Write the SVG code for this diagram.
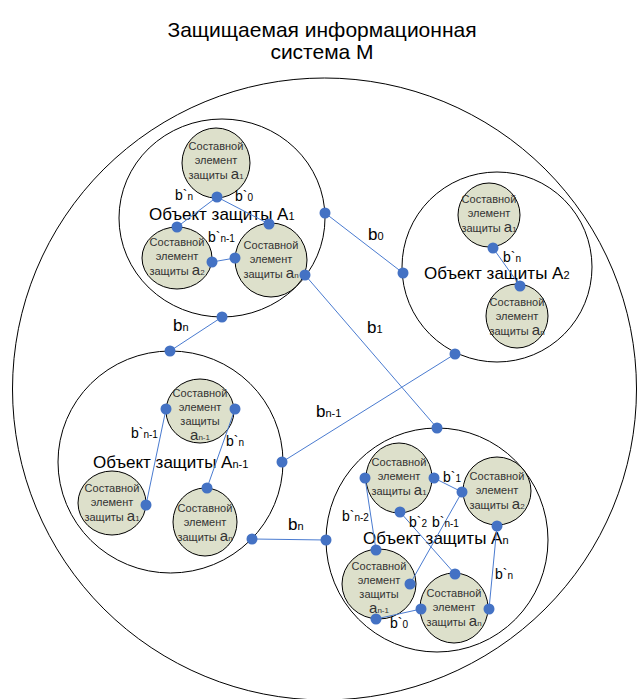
<svg xmlns="http://www.w3.org/2000/svg" width="637" height="699" viewBox="0 0 637 699">
  <style>
    text { font-family: "Liberation Sans", Arial, sans-serif; }
    .title { font-size: 21px; fill: #000; text-anchor: middle; }
    .obj { fill: #fff; fill-opacity: 0; stroke: #000; stroke-width: 1; }
    .el { fill: #dde0cb; stroke: #000; stroke-width: 1; }
    .elt { font-size: 11px; fill: #333; text-anchor: middle; }
    .big { font-size: 15px; }
    .sub { font-size: 8px; }
    .objt { font-size: 17px; fill: #000; }
    .objsub { font-size: 11px; }
    .lnk { stroke: #4a7bd0; stroke-width: 1; fill: none; }
    .dot { fill: #4472c4; }
    .lb { font-size: 14px; fill: #000; }
    .lbs { font-size: 10px; }
    .cb { font-size: 17px; fill: #000; }
    .cbs { font-size: 11px; }
  </style>

  <!-- title -->
  <text class="title" x="322" y="37">Защищаемая информационная</text>
  <text class="title" x="322" y="59">система M</text>

  <!-- system M boundary -->
  <g id="system-M">
    <ellipse class="obj" cx="324.5" cy="389" rx="312" ry="311"/>
  </g>

  <!-- object A1 -->
  <g id="object-A1">
    <ellipse class="obj" cx="222" cy="218" rx="103" ry="99"/>
    <text class="objt" x="149" y="220">Объект защиты A<tspan class="objsub">1</tspan></text>
    <g id="A1-a1">
      <ellipse class="el" cx="216" cy="163" rx="34" ry="35"/>
      <text class="elt" x="216" y="150">Составной<tspan x="216" dy="14">элемент</tspan><tspan x="216" dy="15">защиты <tspan class="big">a</tspan><tspan class="sub">1</tspan></tspan></text>
    </g>
    <g id="A1-a2">
      <ellipse class="el" cx="177" cy="258" rx="35" ry="31"/>
      <text class="elt" x="177" y="246">Составной<tspan x="177" dy="14">элемент</tspan><tspan x="177" dy="15">защиты <tspan class="big">a</tspan><tspan class="sub">2</tspan></tspan></text>
    </g>
    <g id="A1-an">
      <ellipse class="el" cx="271" cy="260" rx="36" ry="37"/>
      <text class="elt" x="271" y="249">Составной<tspan x="271" dy="14">элемент</tspan><tspan x="271" dy="15">защиты <tspan class="big">a</tspan><tspan class="sub">n</tspan></tspan></text>
    </g>
  </g>

  <!-- object A2 -->
  <g id="object-A2">
    <ellipse class="obj" cx="497" cy="267" rx="95" ry="95"/>
    <text class="objt" x="424" y="279">Объект защиты A<tspan class="objsub">2</tspan></text>
    <g id="A2-a1">
      <ellipse class="el" cx="489" cy="215" rx="31" ry="32"/>
      <text class="elt" x="489" y="203">Составной<tspan x="489" dy="14">элемент</tspan><tspan x="489" dy="15">защиты <tspan class="big">a</tspan><tspan class="sub">1</tspan></tspan></text>
    </g>
    <g id="A2-an">
      <ellipse class="el" cx="517" cy="316" rx="31" ry="32"/>
      <text class="elt" x="517" y="306">Составной<tspan x="517" dy="14">элемент</tspan><tspan x="517" dy="15">защиты <tspan class="big">a</tspan><tspan class="sub">n</tspan></tspan></text>
    </g>
  </g>

  <!-- object An-1 -->
  <g id="object-An-1">
    <ellipse class="obj" cx="170.5" cy="462" rx="112.5" ry="111"/>
    <text class="objt" x="93" y="468">Объект защиты A<tspan class="objsub">n-1</tspan></text>
    <g id="An-1-an-1">
      <ellipse class="el" cx="200" cy="411" rx="34" ry="32"/>
      <text class="elt" x="200" y="397">Составной<tspan x="200" dy="14">элемент</tspan><tspan x="200" dy="14">защиты</tspan><tspan x="200" dy="15"><tspan class="big">a</tspan><tspan class="sub">n-1</tspan></tspan></text>
    </g>
    <g id="An-1-a1">
      <ellipse class="el" cx="112" cy="503" rx="34" ry="32"/>
      <text class="elt" x="112" y="492">Составной<tspan x="112" dy="14">элемент</tspan><tspan x="112" dy="15">защиты <tspan class="big">a</tspan><tspan class="sub">1</tspan></tspan></text>
    </g>
    <g id="An-1-an">
      <ellipse class="el" cx="205" cy="522" rx="32" ry="34"/>
      <text class="elt" x="205" y="512">Составной<tspan x="205" dy="14">элемент</tspan><tspan x="205" dy="15">защиты <tspan class="big">a</tspan><tspan class="sub">n</tspan></tspan></text>
    </g>
  </g>

  <!-- object An -->
  <g id="object-An">
    <ellipse class="obj" cx="437" cy="540" rx="111" ry="112"/>
    <text class="objt" x="363" y="544">Объект защиты  A<tspan class="objsub">n</tspan></text>
    <g id="An-a1">
      <ellipse class="el" cx="399" cy="478" rx="33" ry="35"/>
      <text class="elt" x="399" y="466">Составной<tspan x="399" dy="14">элемент</tspan><tspan x="399" dy="15">защиты <tspan class="big">a</tspan><tspan class="sub">1</tspan></tspan></text>
    </g>
    <g id="An-a2">
      <ellipse class="el" cx="497" cy="491" rx="34" ry="34"/>
      <text class="elt" x="497" y="480">Составной<tspan x="497" dy="14">элемент</tspan><tspan x="497" dy="15">защиты <tspan class="big">a</tspan><tspan class="sub">2</tspan></tspan></text>
    </g>
    <g id="An-an-1">
      <ellipse class="el" cx="379" cy="584" rx="37" ry="35"/>
      <text class="elt" x="379" y="570">Составной<tspan x="379" dy="14">элемент</tspan><tspan x="379" dy="14">защиты</tspan><tspan x="379" dy="15"><tspan class="big">a</tspan><tspan class="sub">n-1</tspan></tspan></text>
    </g>
    <g id="An-an">
      <ellipse class="el" cx="454" cy="608" rx="34" ry="35"/>
      <text class="elt" x="454" y="597">Составной<tspan x="454" dy="14">элемент</tspan><tspan x="454" dy="15">защиты <tspan class="big">a</tspan><tspan class="sub">n</tspan></tspan></text>
    </g>
  </g>

  <!-- links between elements and objects -->
  <g id="connectors">
    <!-- inside A1 -->
    <line class="lnk" x1="217" y1="197" x2="177" y2="227"/>
    <line class="lnk" x1="217" y1="197" x2="269" y2="224"/>
    <line class="lnk" x1="212" y1="262" x2="235" y2="258"/>
    <!-- inside A2 -->
    <line class="lnk" x1="493" y1="248" x2="520" y2="286"/>
    <!-- inside An-1 -->
    <line class="lnk" x1="166" y1="409" x2="146" y2="505"/>
    <line class="lnk" x1="235" y1="409" x2="207" y2="488"/>
    <!-- inside An -->
    <line class="lnk" x1="365" y1="478" x2="376" y2="550"/>
    <line class="lnk" x1="434" y1="478" x2="462" y2="492"/>
    <line class="lnk" x1="462" y1="492" x2="410" y2="584"/>
    <line class="lnk" x1="400" y1="512" x2="455" y2="574"/>
    <line class="lnk" x1="497" y1="526" x2="489" y2="609"/>
    <line class="lnk" x1="376" y1="619" x2="421" y2="609"/>
    <!-- between objects -->
    <line class="lnk" x1="325" y1="213" x2="403" y2="273"/>
    <line class="lnk" x1="305" y1="275" x2="437" y2="428"/>
    <line class="lnk" x1="222" y1="317" x2="170" y2="351"/>
    <line class="lnk" x1="455" y1="354" x2="282" y2="462"/>
    <line class="lnk" x1="252" y1="539" x2="326" y2="540"/>

    <!-- link labels -->
    <text class="lb" x="175" y="200">b`<tspan class="lbs">n</tspan></text>
    <text class="lb" x="235" y="201">b`<tspan class="lbs">0</tspan></text>
    <text class="lb" x="208" y="242">b`<tspan class="lbs">n-1</tspan></text>
    <text class="lb" x="503" y="262">b`<tspan class="lbs">n</tspan></text>
    <text class="lb" x="131" y="438">b`<tspan class="lbs">n-1</tspan></text>
    <text class="lb" x="226" y="446">b`<tspan class="lbs">n</tspan></text>
    <text class="lb" x="342" y="521">b`<tspan class="lbs">n-2</tspan></text>
    <text class="lb" x="443" y="482">b`<tspan class="lbs">1</tspan></text>
    <text class="lb" x="409" y="527">b`<tspan class="lbs">2</tspan></text>
    <text class="lb" x="432" y="527">b`<tspan class="lbs">n-1</tspan></text>
    <text class="lb" x="495" y="579">b`<tspan class="lbs">n</tspan></text>
    <text class="lb" x="390" y="628">b`<tspan class="lbs">0</tspan></text>

    <text class="cb" x="368" y="240">b<tspan class="cbs">0</tspan></text>
    <text class="cb" x="367" y="333">b<tspan class="cbs">1</tspan></text>
    <text class="cb" x="173" y="331">b<tspan class="cbs">n</tspan></text>
    <text class="cb" x="316" y="417">b<tspan class="cbs">n-1</tspan></text>
    <text class="cb" x="288" y="530">b<tspan class="cbs">n</tspan></text>

    <!-- connection points -->
    <circle class="dot" cx="217" cy="197" r="5.5"/>
    <circle class="dot" cx="177" cy="227" r="5.5"/>
    <circle class="dot" cx="269" cy="224" r="5.5"/>
    <circle class="dot" cx="212" cy="262" r="5.5"/>
    <circle class="dot" cx="235" cy="258" r="5.5"/>
    <circle class="dot" cx="305" cy="275" r="5.5"/>
    <circle class="dot" cx="325" cy="213" r="5.5"/>
    <circle class="dot" cx="222" cy="317" r="5.5"/>

    <circle class="dot" cx="403" cy="273" r="5.5"/>
    <circle class="dot" cx="493" cy="248" r="5.5"/>
    <circle class="dot" cx="520" cy="286" r="5.5"/>
    <circle class="dot" cx="455" cy="354" r="5.5"/>

    <circle class="dot" cx="170" cy="351" r="5.5"/>
    <circle class="dot" cx="166" cy="409" r="5.5"/>
    <circle class="dot" cx="235" cy="409" r="5.5"/>
    <circle class="dot" cx="146" cy="505" r="5.5"/>
    <circle class="dot" cx="207" cy="488" r="5.5"/>
    <circle class="dot" cx="282" cy="462" r="5.5"/>
    <circle class="dot" cx="252" cy="539" r="5.5"/>

    <circle class="dot" cx="437" cy="428" r="5.5"/>
    <circle class="dot" cx="326" cy="540" r="5.5"/>
    <circle class="dot" cx="365" cy="478" r="5.5"/>
    <circle class="dot" cx="434" cy="478" r="5.5"/>
    <circle class="dot" cx="462" cy="492" r="5.5"/>
    <circle class="dot" cx="400" cy="512" r="5.5"/>
    <circle class="dot" cx="497" cy="526" r="5.5"/>
    <circle class="dot" cx="376" cy="550" r="5.5"/>
    <circle class="dot" cx="410" cy="584" r="5.5"/>
    <circle class="dot" cx="455" cy="574" r="5.5"/>
    <circle class="dot" cx="421" cy="609" r="5.5"/>
    <circle class="dot" cx="489" cy="609" r="5.5"/>
    <circle class="dot" cx="376" cy="619" r="5.5"/>
  </g>
</svg>
